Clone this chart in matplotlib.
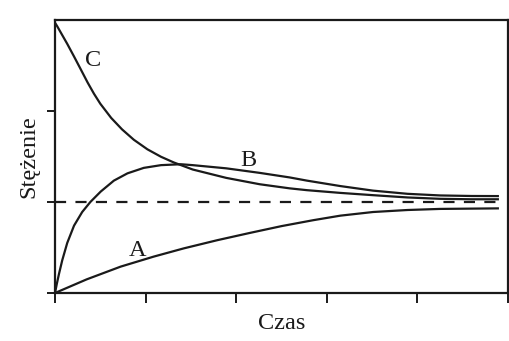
import matplotlib
matplotlib.use("Agg")
import matplotlib.pyplot as plt

# Curve data
c_x = [0, 0.025, 0.135, 0.21, 0.28, 0.36, 0.43, 0.50, 0.62, 0.74, 0.87, 1.02, 1.17, 1.31,
       1.52, 1.89, 2.26, 2.59, 2.78, 3.15, 3.51, 3.89, 4.25, 4.60, 4.90]
c_y = [2.97, 2.93, 2.738, 2.599, 2.466, 2.313, 2.19, 2.08, 1.924, 1.798, 1.684, 1.579, 1.497, 1.435,
       1.357, 1.265, 1.195, 1.15, 1.13, 1.10, 1.075, 1.05, 1.035, 1.03, 1.03]

b_x = [0, 0.02, 0.044, 0.08, 0.135, 0.21, 0.30, 0.39, 0.505, 0.65, 0.80, 0.98, 1.17, 1.39,
       1.52, 1.89, 2.26, 2.59, 2.78, 3.15, 3.51, 3.89, 4.25, 4.60, 4.90]
b_y = [0, 0.10, 0.21, 0.36, 0.55, 0.74, 0.89, 1.00, 1.115, 1.235, 1.315, 1.375, 1.405, 1.415,
       1.405, 1.37, 1.32, 1.27, 1.235, 1.175, 1.125, 1.09, 1.072, 1.066, 1.065]

a_x = [0, 0.35, 0.725, 1.09, 1.42, 1.79, 2.15, 2.50, 2.85, 3.15, 3.51, 3.89, 4.25, 4.90]
a_y = [0, 0.15, 0.29, 0.40, 0.49, 0.58, 0.66, 0.735, 0.80, 0.85, 0.89, 0.912, 0.924, 0.93]

eq_level = 1.0
eq_x = [0, 4.90]

curve_labels = ["C", "B", "A"]
label_pos = [(0.42, 2.56), (2.13, 1.46), (0.91, 0.47)]

x_ticks = [0, 1, 2, 3, 4, 5]
y_ticks = [0, 1, 2]

xlabel = "Czas"
ylabel = "Stężenie"

plt.rcParams['font.family'] = ['Liberation Serif', 'DejaVu Serif']

fig = plt.figure(figsize=(5.1, 3.41), dpi=100)
ax = fig.add_axes([55/510, 48/341, 453/510, 273/341])

col = "#1a1a1a"
lw = 1.6
ax.plot(c_x, c_y, color=col, lw=lw, solid_capstyle='butt', solid_joinstyle='round')
ax.plot(b_x, b_y, color=col, lw=lw, solid_capstyle='butt', solid_joinstyle='round')
ax.plot(a_x, a_y, color=col, lw=lw, solid_capstyle='butt', solid_joinstyle='round')
ax.plot(eq_x, [eq_level, eq_level], color=col, lw=lw, linestyle=(0, (5.0, 4.2)))

for lab, (lx, ly) in zip(curve_labels, label_pos):
    ax.text(lx, ly, lab, fontsize=17.5, ha='center', va='center', color=col)

ax.set_xlim(0, 5)
ax.set_ylim(0, 3)
ax.set_xticks(x_ticks)
ax.set_yticks(y_ticks)
ax.set_xticklabels([])
ax.set_yticklabels([])
ax.tick_params(axis='x', direction='out', length=7, width=1.4, color=col)
ax.tick_params(axis='y', direction='out', length=6, width=1.4, color=col)
for s in ax.spines.values():
    s.set_linewidth(1.6)
    s.set_color(col)

ax.set_xlabel(xlabel, fontsize=17.5, color=col, labelpad=4)
ax.set_ylabel(ylabel, fontsize=17.5, color=col, labelpad=2)

fig.savefig("out.png", dpi=100, facecolor="white")
